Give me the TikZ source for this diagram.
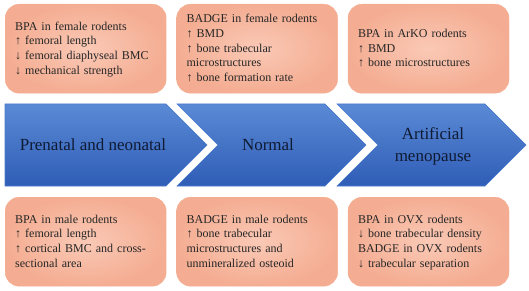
\documentclass[tikz,border=0pt]{standalone}
\usepackage{fontspec}
\setmainfont{Liberation Serif}
\usepackage{xcolor}
\usetikzlibrary{positioning}
\definecolor{salmonin}{HTML}{FAC9B6}
\definecolor{salmonout}{HTML}{F4AD92}
\definecolor{boxline}{HTML}{F5AD90}
\definecolor{boxtext}{HTML}{262626}
\definecolor{bluetop}{HTML}{5A8AD5}
\definecolor{bluebot}{HTML}{2F5DB7}
\definecolor{blueline}{HTML}{4A7ACB}
\definecolor{stagetext}{HTML}{101A33}
\newcommand\upar{\smash{↑}}
\newcommand\dnar{\smash{↓}}

\begin{document}
\begin{tikzpicture}[
  x=1pt, y=-1pt,
  font=\fontsize{12}{14.7}\selectfont,
  effbox/.style={draw=boxline, rounded corners=14pt, shading=radial,
                 inner color=salmonin, outer color=salmonout, align=left,
                 text width=141pt, inner xsep=10pt, inner ysep=0pt,
                 minimum height=89pt, text=boxtext,
                 execute at begin node=\rule{0pt}{11pt},
                 execute at end node=\rule[-4pt]{0pt}{0pt}},
  stage/.style={top color=bluetop, bottom color=bluebot, draw=blueline, line width=0.6pt},
  stagelab/.style={font=\fontsize{17}{22}\selectfont, text=stagetext, align=center},
  node distance=10pt
]
\useasboundingbox (0,0) rectangle (529,291);
% ----- stage chevrons -----
\path[stage] (5,104) -- (166,104) -- (207,145) -- (166,186) -- (5,186) -- cycle;
\path[stage] (177,104) -- (325,104) -- (366,145) -- (325,186) -- (177,186) -- (218,145) -- cycle;
\path[stage] (337,104) -- (485,104) -- (526,145) -- (485,186) -- (337,186) -- (378,145) -- cycle;
\node[stagelab] (prenatal) at (93,145) {Prenatal and neonatal};
\node[stagelab] (normal) at (268,145) {Normal};
\node[stagelab] (meno) at (433,146) {Artificial\\menopause};
% ----- female rodents, top row -----
\node[effbox, anchor=north west] (fpre) at (5,4)
  {BPA in female rodents\\\upar{} femoral length\\\dnar{} femoral diaphyseal BMC\\\dnar{} mechanical strength};
\node[effbox, right=of fpre] (fnorm)
  {BADGE in female rodents\\\upar{} BMD\\\upar{} bone trabecular\\microstructures\\\upar{} bone formation rate};
\node[effbox, right=of fnorm] (fmeno)
  {BPA in ArKO rodents\\\upar{} BMD\\\upar{} bone microstructures};
% ----- male / OVX rodents, bottom row -----
\node[effbox, anchor=north west] (mpre) at (5,197)
  {BPA in male rodents\\\upar{} femoral length\\\upar{} cortical BMC and cross-\\sectional area};
\node[effbox, right=of mpre] (mnorm)
  {BADGE in male rodents\\\upar{} bone trabecular\\microstructures and\\unmineralized osteoid};
\node[effbox, right=of mnorm] (ovx)
  {BPA in OVX rodents\\\dnar{} bone trabecular density\\BADGE in OVX rodents\\\dnar{} trabecular separation};
\end{tikzpicture}
\end{document}
